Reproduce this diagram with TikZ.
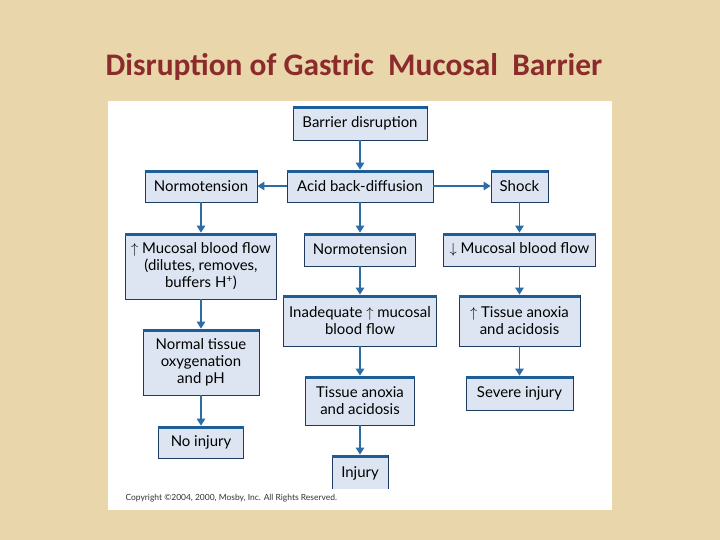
\documentclass[tikz,border=0pt]{standalone}
\usepackage{fontspec}
\setmainfont{Lato}
\newfontfamily\titlefont{Carlito}
\usetikzlibrary{arrows.meta}

\definecolor{parchment}{HTML}{E9D6AB}
\definecolor{titlered}{HTML}{8B2B2B}
\definecolor{boxfill}{HTML}{DCE5F1}
\definecolor{boxline}{HTML}{1E3A5C}
\definecolor{barblue}{HTML}{1D5E98}
\definecolor{arrowblue}{HTML}{2A6DA8}

\tikzstyle{stepbox} = [draw=boxline, fill=boxfill, line width=0.8bp,
    rectangle, inner sep=1bp, align=center, font=\fontsize{15}{17}\selectfont]
\tikzstyle{flow} = [draw=arrowblue, line width=1.4bp,
    -{Triangle[length=7bp,width=8.5bp]}]
\tikzstyle{titletext} = [text=titlered, font={\titlefont\bfseries\fontsize{31.5}{34}\selectfont}]

\begin{document}
\begin{tikzpicture}[x=1bp, y=-1bp]
\fill[parchment] (0,0) rectangle (720,540);
\fill[white] (108,101) rectangle (612,510);
\node[titletext] (title) at (354,67) {Disruption of Gastric~ Mucosal~ Barrier};

\begin{scope}
\clip (108,101) rectangle (612,488);
% top row
\node[stepbox, minimum width=134bp, minimum height=34bp] (barrier) at (360,123) {Barrier disruption};
\node[stepbox, minimum width=112bp, minimum height=32bp] (normL) at (201,186) {Normotension};
\node[stepbox, minimum width=146bp, minimum height=32bp] (acid) at (360,186) {Acid back-diffusion};
\node[stepbox, minimum width=57bp, minimum height=32bp] (shock) at (519.5,186) {Shock};
% left column
\node[stepbox, minimum width=151bp, minimum height=66bp] (upflow) at (201,266) {$\uparrow$ Mucosal blood flow\\(dilutes, removes,\\buffers H\textsuperscript{+})};
\node[stepbox, minimum width=116bp, minimum height=66bp] (normal) at (201,362) {Normal tissue\\oxygenation\\and pH};
\node[stepbox, minimum width=85bp, minimum height=32bp] (noinj) at (201,442) {No injury};
% middle column
\node[stepbox, minimum width=111bp, minimum height=33bp] (normM) at (360,249.5) {Normotension};
\node[stepbox, minimum width=153bp, minimum height=51bp] (inadequate) at (360,320.5) {Inadequate $\uparrow$ mucosal\\blood flow};
\node[stepbox, minimum width=109bp, minimum height=49bp] (anoxia) at (360,400.5) {Tissue anoxia\\and acidosis};
\node[stepbox, minimum width=56bp, minimum height=36bp] (injury) at (360,473) {Injury};
% right column
\node[stepbox, minimum width=152bp, minimum height=33bp] (downflow) at (519.5,249.5) {$\downarrow$ Mucosal blood flow};
\node[stepbox, minimum width=121bp, minimum height=51bp] (upanoxia) at (519.5,320.5) {$\uparrow$ Tissue anoxia\\and acidosis};
\node[stepbox, minimum width=107bp, minimum height=34bp] (severe) at (519.5,393) {Severe injury};

\foreach \n in {barrier, normL, acid, shock, upflow, normal, noinj, normM, inadequate, anoxia, injury, downflow, upanoxia, severe}
    \draw[barblue, line width=3bp] ([yshift=-1.5bp]\n.north west) -- ([yshift=-1.5bp]\n.north east);

\draw[flow] (barrier.south) -- (acid.north);
\draw[flow] (acid.west) -- (normL.east);
\draw[flow] (acid.east) -- (shock.west);
\draw[flow] (normL.south) -- (upflow.north);
\draw[flow] (upflow.south) -- (normal.north);
\draw[flow] (normal.south) -- (noinj.north);
\draw[flow] (acid.south) -- (normM.north);
\draw[flow] (normM.south) -- (inadequate.north);
\draw[flow] (inadequate.south) -- (anoxia.north);
\draw[flow] (anoxia.south) -- (injury.north);
\draw[flow] (shock.south) -- (downflow.north);
\draw[flow] (downflow.south) -- (upanoxia.north);
\draw[flow] (upanoxia.south) -- (severe.north);
\end{scope}

\node[anchor=west, text=black!80, font=\fontsize{8.5}{10}\selectfont] (copyright) at (122,498) {Copyright \textcopyright 2004, 2000, Mosby, Inc. All Rights Reserved.};
\end{tikzpicture}
\end{document}
